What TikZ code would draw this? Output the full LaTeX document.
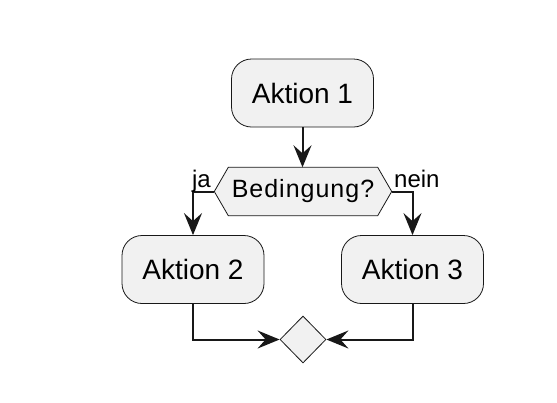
\documentclass[tikz,border=0pt]{standalone}
\usepackage{fontspec}
\setmainfont{Liberation Sans}
\newfontfamily\fragefont[LetterSpace=4]{Liberation Sans}
\usetikzlibrary{arrows.meta,shapes.geometric,backgrounds}
\definecolor{boxfill}{HTML}{F1F1F1}
\definecolor{boxline}{HTML}{181818}
\tikzset{>={Stealth[length=22pt,width=18pt,inset=8pt]}}

\begin{document}
\begin{tikzpicture}[x=1pt,y=-1pt,
    aktion/.style={draw=boxline, fill=boxfill, line width=0.8pt, rounded corners=20pt,
        minimum width=142pt, minimum height=68pt, font=\fontsize{28}{32}\selectfont},
    frage/.style={minimum width=177pt, minimum height=48pt, inner sep=0pt,
        font=\fragefont\fontsize{25}{30}\selectfont},
    rahmen/.style={draw=boxline, fill=boxfill, line width=0.8pt},
    merge/.style={draw=boxline, fill=boxfill, line width=0.8pt, diamond,
        minimum width=46pt, minimum height=47pt, inner sep=0pt},
    zweig/.style={font=\fontsize{24}{28}\selectfont, inner sep=0pt},
    flow/.style={->, line width=2pt, draw=boxline}]
    \useasboundingbox (0,0) rectangle (557,402);
    \node[aktion] (a1) at (302.5,93) {Aktion 1};
    \node[frage] (cond) at (303,191.5) {Bedingung?};
    \begin{scope}[on background layer]
        \draw[rahmen] (cond.west) -- ([xshift=14pt]cond.north west) -- ([xshift=-14pt]cond.north east)
            -- (cond.east) -- ([xshift=-14pt]cond.south east) -- ([xshift=14pt]cond.south west) -- cycle;
    \end{scope}
    \node[aktion] (a2) at (193,269.5) {Aktion 2};
    \node[aktion] (a3) at (412.5,269.5) {Aktion 3};
    \node[merge] (end) at (303,339.5) {};
    \draw[flow] (a1.south) -- (a1.south |- cond.north);
    \draw[flow] (cond.west) -| (a2.north)
        node[zweig, pos=0, anchor=base east, xshift=-2.5pt, yshift=4.5pt] {ja};
    \draw[flow] (cond.east) -| (a3.north)
        node[zweig, pos=0, anchor=base west, xshift=1.5pt, yshift=4.5pt] {nein};
    \draw[flow] (a2) |- (end);
    \draw[flow] (a3) |- (end);
\end{tikzpicture}
\end{document}
